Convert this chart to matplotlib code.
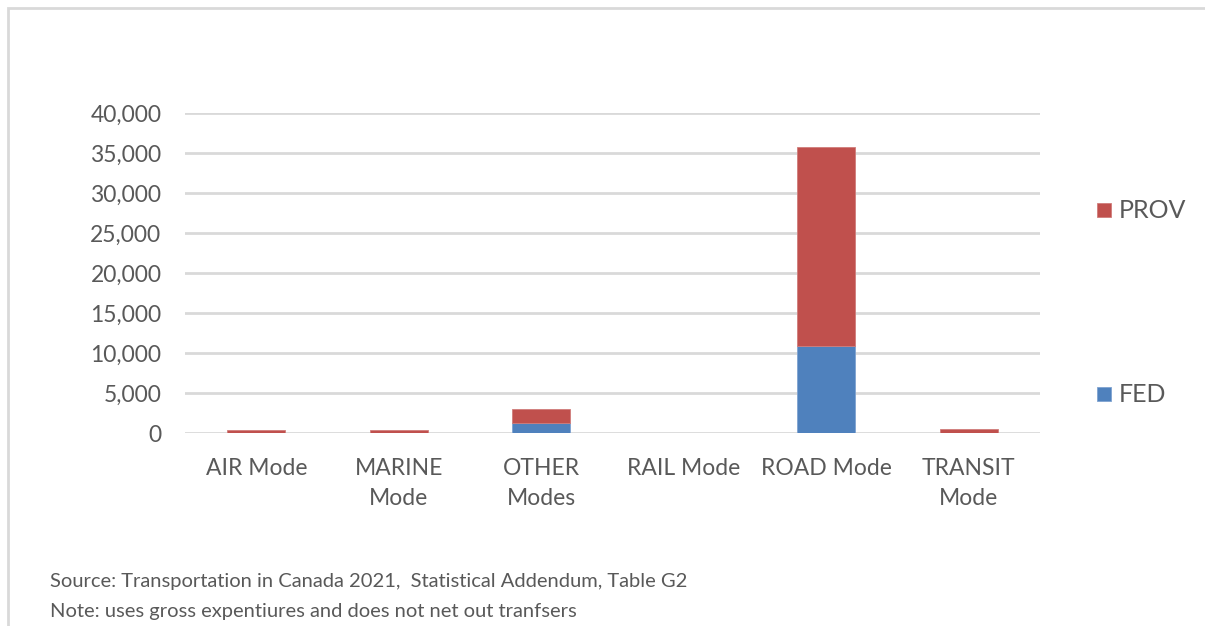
import matplotlib.pyplot as plt
from matplotlib.patches import Rectangle
import numpy as np

plt.rcParams['font.family'] = ['Lato', 'DejaVu Sans']

modes = ["AIR Mode", "MARINE\nMode", "OTHER\nModes", "RAIL Mode", "ROAD Mode", "TRANSIT\nMode"]
fed = [0, 0, 1200, 0, 10900, 0]
prov = [350, 330, 1800, 0, 24850, 550]

text_col = "#595959"
grid_col = "#d9d9d9"

fig = plt.figure(figsize=(12.05, 6.26), dpi=100)

# outer chart frame
fig.patches.append(Rectangle((8 / 1205, -0.1), 1.2, 1 - 8 / 626 + 0.1,
                             transform=fig.transFigure, fill=False,
                             edgecolor=grid_col, linewidth=2))

ax = fig.add_axes([185 / 1205, 1 - 433 / 626, 855 / 1205, 320 / 626])
x = np.arange(len(modes))
ax.bar(x, fed, width=0.41, color="#4F81BD", edgecolor="#7fa3d0", linewidth=0.6,
       label="FED", zorder=3)
ax.bar(x, prov, width=0.41, bottom=fed, color="#C0504D", edgecolor="#d07d7b",
       linewidth=0.6, label="PROV", zorder=3)

ax.set_xlim(-0.5, len(modes) - 0.5)
ax.set_ylim(0, 40000)
ax.set_yticks(np.arange(0, 40001, 5000))
ax.set_yticklabels([f"{v:,}" for v in range(0, 40001, 5000)])
ax.yaxis.grid(True, color=grid_col, linewidth=2)
ax.set_axisbelow(True)
for s in ax.spines.values():
    s.set_visible(False)
ax.tick_params(axis="y", length=0, pad=17, labelsize=16.5, labelcolor=text_col)
ax.set_xticks(x)
ax.set_xticklabels(modes, linespacing=1.55)
ax.tick_params(axis="x", length=0, pad=18, labelsize=16.5, labelcolor=text_col)
for lbl in ax.get_xticklabels():
    lbl.set_verticalalignment("top")

# legend entries placed at right of plot
for name, color, edge, ypix in [("PROV", "#C0504D", "#d07d7b", 210),
                                 ("FED", "#4F81BD", "#7fa3d0", 394)]:
    fig.patches.append(Rectangle((1097 / 1205, 1 - (ypix + 7) / 626), 14 / 1205, 14 / 626,
                                 transform=fig.transFigure, facecolor=color,
                                 edgecolor=edge, linewidth=0.6))
    fig.text(1119 / 1205, 1 - ypix / 626, name, fontsize=18, color=text_col,
             va="center", ha="left")

fig.text(50 / 1205, 1 - 582 / 626,
         "Source: Transportation in Canada 2021,  Statistical Addendum, Table G2",
         fontsize=14.5, color=text_col, va="center", ha="left")
fig.text(50 / 1205, 1 - 611 / 626,
         "Note: uses gross expentiures and does not net out tranfsers",
         fontsize=14.5, color=text_col, va="center", ha="left")

fig.savefig("out.png", dpi=100)
